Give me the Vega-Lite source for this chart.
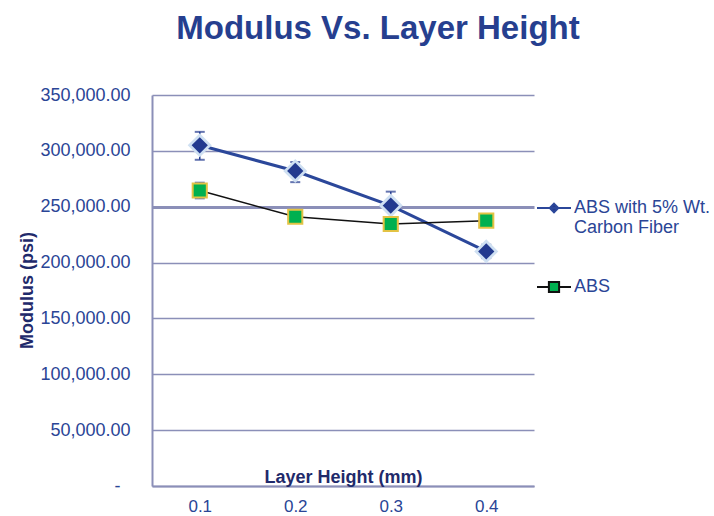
{
  "$schema": "https://vega.github.io/schema/vega-lite/v6.json",
  "width": 382,
  "height": 391,
  "autosize": "none",
  "padding": {"left": 152, "top": 95, "right": 180, "bottom": 30},
  "background": "white",
  "title": {"text": "Modulus Vs. Layer Height", "font": "Liberation Sans", "fontSize": 33, "fontWeight": "bold", "color": "#263f8f", "anchor": "middle", "dx": 35, "offset": 40},
  "config": {"view": {"stroke": null}},
  "resolve": {"scale": {"fill": "independent"}, "legend": {"fill": "independent"}},
  "data": {"values": [
    {"series": "ABS with 5% Wt. Carbon Fiber", "h": "0.1", "modulus": 305000, "lo": 292000, "hi": 317000},
    {"series": "ABS with 5% Wt. Carbon Fiber", "h": "0.2", "modulus": 282000, "lo": 272000, "hi": 290000},
    {"series": "ABS with 5% Wt. Carbon Fiber", "h": "0.3", "modulus": 251000, "lo": 239000, "hi": 263500},
    {"series": "ABS with 5% Wt. Carbon Fiber", "h": "0.4", "modulus": 210000, "lo": 204000, "hi": 216000},
    {"series": "ABS", "h": "0.1", "modulus": 264500, "lo": 257500, "hi": 271500},
    {"series": "ABS", "h": "0.2", "modulus": 241000, "lo": 238000, "hi": 244000},
    {"series": "ABS", "h": "0.3", "modulus": 234500, "lo": 231000, "hi": 238000},
    {"series": "ABS", "h": "0.4", "modulus": 237500, "lo": 234500, "hi": 240500}
  ]},
  "encoding": {
    "x": {"field": "h", "type": "ordinal", "scale": {"type": "point", "padding": 0.5},
      "axis": {"labelAngle": 0, "domainColor": "#8b8fb8", "domainWidth": 2, "ticks": false, "labelPadding": 12,
        "labelFont": "Liberation Sans", "labelFontSize": 17, "labelColor": "#2a4596",
        "title": "Layer Height (mm)", "titleFont": "Liberation Sans", "titleFontSize": 18, "titleFontWeight": "bold",
        "titleColor": "#1f2a6b", "titleY": -4, "titleBaseline": "alphabetic"}}
  },
  "layer": [
    {
      "mark": {"type": "line"},
      "encoding": {
        "y": {"field": "modulus", "type": "quantitative", "scale": {"domain": [0, 350000], "nice": false},
          "axis": {"values": [0, 50000, 100000, 150000, 200000, 250000, 300000, 350000],
            "labelExpr": "datum.value === 0 ? '-' : format(datum.value, ',.2f')",
            "domainColor": "#8b8fb8", "domainWidth": 2, "ticks": false,
            "labelPadding": {"condition": {"test": "datum.value === 0", "value": 32}, "value": 22},
            "grid": true, "gridColor": "#8b8fb8", "gridWidth": {"condition": {"test": "datum.value === 250000", "value": 3}, "value": 1.5},
            "labelFont": "Liberation Sans", "labelFontSize": 18, "labelColor": "#2a4596",
            "title": "Modulus  (psi)", "titleFont": "Liberation Sans", "titleFontSize": 18, "titleFontWeight": "bold",
            "titleColor": "#1f2a6b", "titleX": -125, "titleY": 195, "titleAngle": -90, "titleAlign": "center", "titleBaseline": "middle"}},
        "detail": {"field": "series"},
        "stroke": {"field": "series", "type": "nominal", "scale": {"domain": ["ABS", "ABS with 5% Wt. Carbon Fiber"], "range": ["#111111", "#2b479a"]}, "legend": null},
        "strokeWidth": {"field": "series", "type": "nominal", "scale": {"domain": ["ABS", "ABS with 5% Wt. Carbon Fiber"], "range": [1.5, 3]}, "legend": null}
      }
    },
    {
      "mark": {"type": "rule", "color": "#233a8f", "strokeWidth": 1.5},
      "encoding": {"y": {"field": "lo", "type": "quantitative"}, "y2": {"field": "hi"}}
    },
    {
      "mark": {"type": "tick", "color": "#233a8f", "size": 10, "thickness": 2, "orient": "horizontal"},
      "encoding": {"y": {"field": "lo", "type": "quantitative"}}
    },
    {
      "mark": {"type": "tick", "color": "#233a8f", "size": 10, "thickness": 2, "orient": "horizontal"},
      "encoding": {"y": {"field": "hi", "type": "quantitative"}}
    },
    {
      "transform": [{"filter": "datum.series !== 'ABS'"}],
      "mark": {"type": "point", "filled": true, "shape": "diamond", "size": 580, "color": "#cfe0f2", "opacity": 1},
      "encoding": {"y": {"field": "modulus", "type": "quantitative"}}
    },
    {
      "transform": [{"filter": "datum.series !== 'ABS'"}],
      "mark": {"type": "point", "filled": true, "opacity": 1, "strokeWidth": 2, "size": 180, "shape": "diamond", "stroke": "#233a8f"},
      "encoding": {
        "y": {"field": "modulus", "type": "quantitative"},
        "fill": {"field": "series", "type": "nominal", "scale": {"range": ["#233a8f"]},
          "legend": {"orient": "none", "legendX": 384, "legendY": 95, "title": null, "padding": 0,
            "symbolType": "M-1,0H1M0,-0.25L0.25,0L0,0.25L-0.25,0Z",
            "symbolSize": 1156, "symbolStrokeWidth": 2, "symbolStrokeColor": "#2b479a", "labelOffset": 2, "labelLimit": 300,
            "labelFont": "Liberation Sans", "labelFontSize": 18, "labelColor": "#2a4596",
            "labelExpr": "['ABS with 5% Wt.', 'Carbon Fiber']"}}
      }
    },
    {
      "transform": [{"filter": "datum.series === 'ABS'"}],
      "mark": {"type": "point", "filled": true, "opacity": 1, "strokeWidth": 2, "size": 200, "shape": "square", "stroke": "#e3c344"},
      "encoding": {
        "y": {"field": "modulus", "type": "quantitative"},
        "fill": {"field": "series", "type": "nominal", "scale": {"range": ["#00b050"]},
          "legend": {"orient": "none", "legendX": 384, "legendY": 174, "title": null, "padding": 0,
            "symbolType": "M-1,0H-0.3M0.3,0H1M-0.3,-0.3H0.3V0.3H-0.3Z",
            "symbolSize": 1156, "symbolStrokeWidth": 2, "symbolStrokeColor": "#111111", "labelOffset": 2, "labelLimit": 300,
            "labelFont": "Liberation Sans", "labelFontSize": 18, "labelColor": "#2a4596"}}
      }
    }
  ]
}
